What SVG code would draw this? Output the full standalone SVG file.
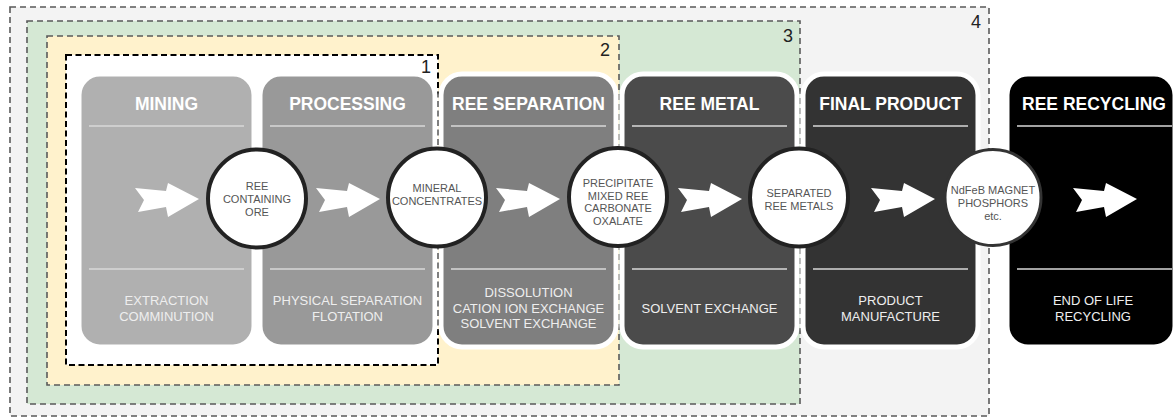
<svg xmlns="http://www.w3.org/2000/svg" width="1176" height="418" viewBox="0 0 1176 418">
  <defs>
    <style>
      .zone { stroke: #5a5a5a; stroke-width: 1.6; stroke-dasharray: 6 4; }
      .zone1 { fill: #ffffff; stroke: #000; stroke-width: 2; stroke-dasharray: 6 3.5; }
      .zlabel { font-family: "Liberation Sans", Arial, sans-serif; font-size: 18px; fill: #222; text-anchor: end; }
      .step { stroke: #ffffff; stroke-width: 5; }
      .title { font-family: "Liberation Sans", Arial, sans-serif; font-size: 17.5px; font-weight: bold; fill: #ffffff; text-anchor: middle; }
      .rule { stroke: #d9d9d9; stroke-width: 1.6; }
      .desc { font-family: "Liberation Sans", Arial, sans-serif; font-size: 13px; fill: #eeeeee; text-anchor: middle; }
      .stage { fill: #ffffff; stroke: #222; stroke-width: 4; }
      .stxt { font-family: "Liberation Sans", Arial, sans-serif; font-size: 11px; fill: #555; text-anchor: middle; }
      .flow { fill: #ffffff; }
    </style>
    <!-- white chevron arrow, tip at (0,0) -->
    <path id="chev" d="M-64,-11 L-33,-8 L-31,-16 L0,0 L-31,18 L-33,8 L-61,13 L-55,1 Z"/>
  </defs>

  <rect width="1176" height="418" fill="#ffffff"/>

  <!-- nested scope zones -->
  <g id="zone-4">
    <rect class="zone" x="10" y="7" width="979" height="409" fill="#f3f3f3"/>
    <text class="zlabel" x="981" y="28">4</text>
  </g>
  <g id="zone-3">
    <rect class="zone" x="27" y="21" width="773" height="383" fill="#d5e8d4"/>
    <text class="zlabel" x="793" y="42">3</text>
  </g>
  <g id="zone-2">
    <rect class="zone" x="47" y="36" width="572" height="349" fill="#fff2cc"/>
    <text class="zlabel" x="610" y="56">2</text>
  </g>
  <g id="zone-1">
    <rect class="zone1" x="66" y="55" width="372" height="310"/>
    <text class="zlabel" x="431" y="73">1</text>
  </g>

  <!-- value-chain steps -->
  <g id="step-mining">
    <rect class="step" x="79" y="74" width="175" height="273" rx="21" fill="#b0b0b0"/>
    <text class="title" x="166.5" y="110">MINING</text>
    <line class="rule" x1="89" y1="126" x2="244" y2="126"/>
    <line class="rule" x1="89" y1="269" x2="244" y2="269"/>
    <text class="desc" x="166.5" y="305">EXTRACTION</text>
    <text class="desc" x="166.5" y="320.5">COMMINUTION</text>
  </g>
  <g id="step-processing">
    <rect class="step" x="260" y="74" width="175" height="273" rx="21" fill="#999999"/>
    <text class="title" x="347.5" y="110">PROCESSING</text>
    <line class="rule" x1="270" y1="126" x2="425" y2="126"/>
    <line class="rule" x1="270" y1="269" x2="425" y2="269"/>
    <text class="desc" x="347.5" y="305">PHYSICAL SEPARATION</text>
    <text class="desc" x="347.5" y="320.5">FLOTATION</text>
  </g>
  <g id="step-separation">
    <rect class="step" x="441" y="74" width="175" height="273" rx="21" fill="#7f7f7f"/>
    <text class="title" x="528.5" y="110">REE SEPARATION</text>
    <line class="rule" x1="451" y1="126" x2="606" y2="126"/>
    <line class="rule" x1="451" y1="269" x2="606" y2="269"/>
    <text class="desc" x="528.5" y="297">DISSOLUTION</text>
    <text class="desc" x="528.5" y="312.5">CATION ION EXCHANGE</text>
    <text class="desc" x="528.5" y="328">SOLVENT EXCHANGE</text>
  </g>
  <g id="step-metal">
    <rect class="step" x="622" y="74" width="175" height="273" rx="21" fill="#4b4b4b"/>
    <text class="title" x="709.5" y="110">REE METAL</text>
    <line class="rule" x1="632" y1="126" x2="787" y2="126"/>
    <line class="rule" x1="632" y1="269" x2="787" y2="269"/>
    <text class="desc" x="709.5" y="312.5">SOLVENT EXCHANGE</text>
  </g>
  <g id="step-product">
    <rect class="step" x="803" y="74" width="175" height="273" rx="21" fill="#333333"/>
    <text class="title" x="890.5" y="110">FINAL PRODUCT</text>
    <line class="rule" x1="813" y1="126" x2="968" y2="126"/>
    <line class="rule" x1="813" y1="269" x2="968" y2="269"/>
    <text class="desc" x="890.5" y="305">PRODUCT</text>
    <text class="desc" x="890.5" y="320.5">MANUFACTURE</text>
  </g>
  <g id="step-recycling">
    <rect class="step" x="1007" y="74" width="168" height="273" rx="21" fill="#000000"/>
    <text class="title" x="1094" y="110">REE RECYCLING</text>
    <line class="rule" x1="1017" y1="126" x2="1172" y2="126"/>
    <line class="rule" x1="1017" y1="269" x2="1172" y2="269"/>
    <text class="desc" x="1093" y="305">END OF LIFE</text>
    <text class="desc" x="1093" y="320.5">RECYCLING</text>
  </g>

  <!-- flow arrows -->
  <g id="connectors" class="flow">
    <use href="#chev" transform="translate(199,199)"/>
    <use href="#chev" transform="translate(380,199)"/>
    <use href="#chev" transform="translate(560,199)"/>
    <use href="#chev" transform="translate(742,199)"/>
    <use href="#chev" transform="translate(935,199)"/>
    <use href="#chev" transform="translate(1137,199)"/>
  </g>

  <!-- intermediate products -->
  <g id="out-ore">
    <circle class="stage" cx="257" cy="198.5" r="49"/>
    <text class="stxt" x="257" y="190">REE</text>
    <text class="stxt" x="257" y="203">CONTAINING</text>
    <text class="stxt" x="257" y="216">ORE</text>
  </g>
  <g id="out-concentrates">
    <circle class="stage" cx="437" cy="197.5" r="49"/>
    <text class="stxt" x="437" y="192">MINERAL</text>
    <text class="stxt" x="437" y="205">CONCENTRATES</text>
  </g>
  <g id="out-carbonate">
    <circle class="stage" cx="618" cy="197" r="49"/>
    <text class="stxt" x="618" y="187">PRECIPITATE</text>
    <text class="stxt" x="618" y="199.5">MIXED REE</text>
    <text class="stxt" x="618" y="212">CARBONATE</text>
    <text class="stxt" x="618" y="224.5">OXALATE</text>
  </g>
  <g id="out-metals">
    <circle class="stage" cx="799" cy="197.5" r="49"/>
    <text class="stxt" x="799" y="197">SEPARATED</text>
    <text class="stxt" x="799" y="209.5">REE METALS</text>
  </g>
  <g id="out-products">
    <circle class="stage" cx="993" cy="197.5" r="48" style="stroke:#333;stroke-width:3"/>
    <text class="stxt" x="993" y="194">NdFeB MAGNET</text>
    <text class="stxt" x="993" y="207">PHOSPHORS</text>
    <text class="stxt" x="993" y="220">etc.</text>
  </g>
</svg>
